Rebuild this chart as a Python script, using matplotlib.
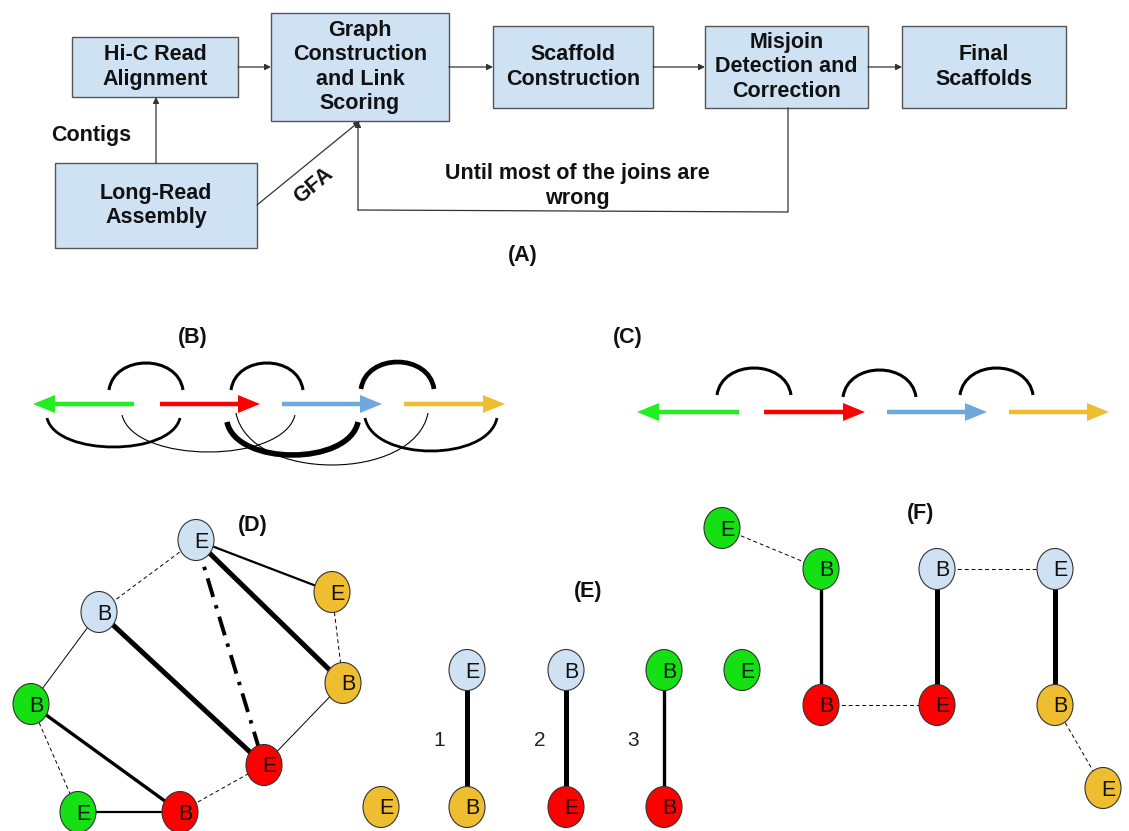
import matplotlib.pyplot as plt
from matplotlib.patches import Rectangle, Ellipse, FancyArrow, PathPatch
from matplotlib.path import Path

plt.rcParams['font.family'] = ['Liberation Sans', 'DejaVu Sans']

LB, GR, RD, OR = '#cfe2f3', '#14e014', '#ff0000', '#eebd30'
BLUE_ARROW = '#6fa8dc'
GREEN_ARROW = '#22ee22'

# (A) pipeline boxes
box_text = ['Hi-C Read\nAlignment', 'Graph\nConstruction\nand Link\nScoring',
            'Scaffold\nConstruction', 'Misjoin\nDetection and\nCorrection',
            'Final\nScaffolds', 'Long-Read\nAssembly']
box_x0 = [72, 271, 493, 705, 902, 55]
box_x1 = [238, 449, 653, 868, 1066, 257]
box_y0 = [37, 13, 26, 26, 26, 163]
box_y1 = [97, 121, 108, 108, 108, 248]

# arrows between boxes: (tail, tip)
flow_arrows = [((238, 67), (271, 67)), ((449, 67), (493, 67)),
               ((653, 67), (705, 67)), ((868, 67), (902, 67)),
               ((156, 163), (156, 97)), ((257, 205), (360, 121))]
loop_x = [788, 788, 358, 358]
loop_y = [108, 212, 210, 121]

# (B) / (C) contigs as arrows
contig_colors = [GREEN_ARROW, RD, BLUE_ARROW, OR]
b_tail = [134, 160, 282, 404]
b_tip = [33, 260, 382, 505]
b_y = 404
c_tail = [739, 764, 887, 1009]
c_tip = [637, 865, 987, 1109]
c_y = 412

# arcs: x0, x1, base y, extreme y, line width
b_arcs = [(109, 183, 390, 363, 2.2), (231, 303, 390, 363, 2.2), (361, 434, 389, 362, 3.4),
          (47, 180, 418, 447, 2.0), (122, 295, 415, 452, 0.8), (227, 358, 422, 455, 4.0),
          (236, 428, 413, 465, 0.8), (365, 497, 418, 451, 2.0)]
c_arcs = [(717, 791, 395, 368, 2.2), (843, 916, 397, 370, 2.2), (960, 1033, 395, 368, 2.2)]

# (D) graph
d_x = [196, 99, 332, 343, 31, 264, 78, 180]
d_y = [540, 612, 592, 683, 704, 765, 812, 812]
d_lab = ['E', 'B', 'E', 'B', 'B', 'E', 'E', 'B']
d_col = [LB, LB, OR, OR, GR, RD, GR, RD]
d_edges = [(0, 1, 'dash'), (0, 2, 'mid'), (0, 3, 'thick'), (0, 5, 'dashdot'),
           (1, 5, 'thick'), (1, 4, 'thin'), (2, 3, 'dash'), (3, 5, 'thin'),
           (4, 7, 'midthick'), (4, 6, 'dash'), (6, 7, 'mid'), (7, 5, 'dash')]

# (E) matching
e_x = [467, 467, 566, 566, 664, 664, 742, 381]
e_y = [670, 807, 670, 807, 670, 807, 670, 807]
e_lab = ['E', 'B', 'B', 'E', 'B', 'B', 'E', 'E']
e_col = [LB, OR, LB, RD, GR, RD, GR, OR]
e_edges = [(0, 1, 'thick'), (2, 3, 'thick'), (4, 5, 'midthick')]
e_num = ['1', '2', '3']
e_num_x = [439, 540, 633]

# (F) scaffold graph
f_x = [722, 821, 821, 937, 937, 1055, 1055, 1103]
f_y = [528, 569, 705, 705, 569, 569, 705, 788]
f_lab = ['E', 'B', 'B', 'E', 'B', 'E', 'B', 'E']
f_col = [GR, GR, RD, RD, LB, LB, OR, OR]
f_edges = [(0, 1, 'dash'), (1, 2, 'midthick'), (2, 3, 'dash'), (4, 3, 'thick'),
           (4, 5, 'dash'), (5, 6, 'thick'), (6, 7, 'dash')]

edge_style = {
    'thin': dict(lw=0.7, ls='-'),
    'dash': dict(lw=0.7, ls=(0, (4, 3))),
    'mid': dict(lw=1.6, ls='-'),
    'midthick': dict(lw=2.4, ls='-'),
    'thick': dict(lw=3.6, ls='-'),
    'dashdot': dict(lw=2.8, ls=(0, (5, 2.2, 0.9, 2.2))),
}

fig = plt.figure(figsize=(11.29, 8.31), dpi=100)
ax = fig.add_axes([0, 0, 1, 1])
ax.set_xlim(0, 1129)
ax.set_ylim(831, 0)
ax.axis('off')

bold = dict(fontsize=15.5, fontweight='bold', ha='center', va='center', color='#111111')

# ---- (A) ----
for t, x0, x1, y0, y1 in zip(box_text, box_x0, box_x1, box_y0, box_y1):
    ax.add_patch(Rectangle((x0, y0), x1 - x0, y1 - y0, facecolor=LB,
                           edgecolor='#555555', lw=1.0))
    ax.text((x0 + x1) / 2, (y0 + y1) / 2, t, linespacing=1.2, **bold)

arrow_kw = dict(arrowstyle='-|>', lw=0.9, color='#333333', mutation_scale=9,
                shrinkA=0, shrinkB=0)
for tail, tip in flow_arrows:
    ax.annotate('', xy=tip, xytext=tail, arrowprops=arrow_kw)
ax.plot(loop_x[:3], loop_y[:3], color='#333333', lw=0.9)
ax.annotate('', xy=(loop_x[3], loop_y[3]), xytext=(loop_x[2], loop_y[2]),
            arrowprops=arrow_kw)

ax.text(91, 135, 'Contigs', **bold)
ax.text(314, 186, 'GFA', rotation=40, **bold)
ax.text(577, 186, 'Until most of the joins are\nwrong', linespacing=1.3, **bold)
ax.text(523, 255, '(A)', **bold)


# ---- (B) and (C) ----
def arc(x0, x1, yb, ye, lw):
    c = (ye - 0.25 * yb) / 0.75
    w = x1 - x0
    verts = [(x0, yb), (x0 + 0.07 * w, c), (x1 - 0.07 * w, c), (x1, yb)]
    codes = [Path.MOVETO, Path.CURVE4, Path.CURVE4, Path.CURVE4]
    ax.add_patch(PathPatch(Path(verts, codes), fill=False, lw=lw,
                           edgecolor='black', capstyle='butt'))


def contig(tail, tip, y, color):
    ax.add_patch(FancyArrow(tail, y, tip - tail, 0, width=4.5, head_width=18,
                            head_length=22, length_includes_head=True,
                            color=color, lw=0))


for a in b_arcs + c_arcs:
    arc(*a)
for tl, tp, col in zip(b_tail, b_tip, contig_colors):
    contig(tl, tp, b_y, col)
for tl, tp, col in zip(c_tail, c_tip, contig_colors):
    contig(tl, tp, c_y, col)
ax.text(193, 338, '(B)', **bold)
ax.text(628, 338, '(C)', **bold)


# ---- (D), (E), (F) ----
def graph(xs, ys, labs, cols, edges):
    for i, j, s in edges:
        ax.plot([xs[i], xs[j]], [ys[i], ys[j]], color='black', zorder=2,
                solid_capstyle='butt', **edge_style[s])
    for x, y, l, c in zip(xs, ys, labs, cols):
        ax.add_patch(Ellipse((x, y), 36, 41, facecolor=c, edgecolor='#333333',
                             lw=0.8, zorder=3))
        ax.text(x + 5, y + 2, l, fontsize=15.5, ha='center', va='center',
                color='#111111', zorder=4)


graph(d_x, d_y, d_lab, d_col, d_edges)
graph(e_x, e_y, e_lab, e_col, e_edges)
graph(f_x, f_y, f_lab, f_col, f_edges)

for n, x in zip(e_num, e_num_x):
    ax.text(x, 740, n, fontsize=15, ha='center', va='center', color='#222222')

ax.text(253, 526, '(D)', **bold)
ax.text(588, 592, '(E)', **bold)
ax.text(921, 513, '(F)', **bold)

fig.savefig('out.png', dpi=100)
